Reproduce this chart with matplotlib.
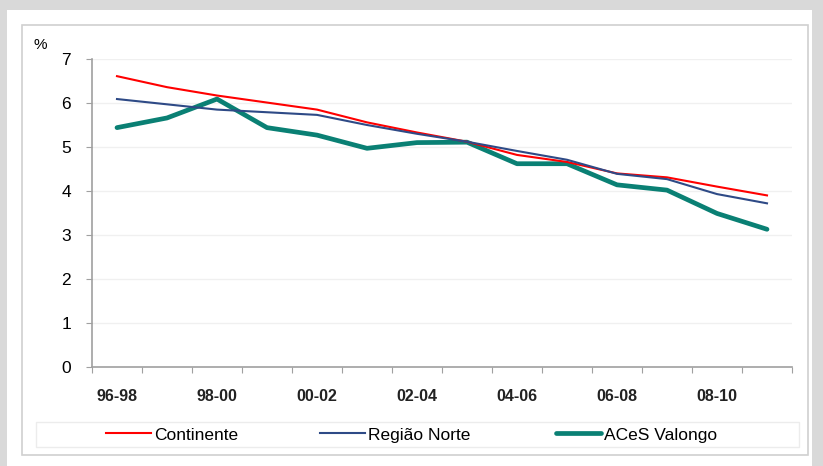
import matplotlib.pyplot as plt
from matplotlib.patches import Rectangle

plt.rcParams['font.family'] = ['Liberation Sans', 'DejaVu Sans']

periods = ['96-98', '97-99', '98-00', '99-01', '00-02', '01-03', '02-04',
           '03-05', '04-06', '05-07', '06-08', '07-09', '08-10', '09-11']
continente = [6.61, 6.36, 6.17, 6.01, 5.85, 5.56, 5.33, 5.12, 4.82, 4.66, 4.40, 4.31, 4.10, 3.90]
regiao_norte = [6.09, 5.97, 5.85, 5.79, 5.73, 5.50, 5.30, 5.12, 4.91, 4.71, 4.39, 4.27, 3.93, 3.72]
aces_valongo = [5.44, 5.66, 6.09, 5.44, 5.27, 4.97, 5.10, 5.11, 4.62, 4.62, 4.14, 4.02, 3.49, 3.13]

W, H = 823, 466
fig = plt.figure(figsize=(W / 100, H / 100), dpi=100, facecolor='#d9d9d9')

# white panel and light chart frame (pixel boxes -> figure fraction)
def box(x0, y0, x1, y1):
    return (x0 / W, 1 - y1 / H), (x1 - x0) / W, (y1 - y0) / H

xy, w, h = box(7, 10, 812, 466)
fig.patches.append(Rectangle(xy, w, h, transform=fig.transFigure, facecolor='white',
                             edgecolor='none', zorder=-3))
xy, w, h = box(22, 25, 808, 455)
fig.patches.append(Rectangle(xy, w, h, transform=fig.transFigure, facecolor='white',
                             edgecolor='#d0d0d0', lw=1.2, zorder=-2))
xy, w, h = box(36, 422, 799, 447)
fig.patches.append(Rectangle(xy, w, h, transform=fig.transFigure, facecolor='white',
                             edgecolor='#ececec', lw=1.0, zorder=-1))

ax = fig.add_axes([92 / W, 1 - 367 / H, 700 / W, 308 / H])
ax.set_facecolor('none')

x = list(range(len(periods)))
l1, = ax.plot(x, continente, color='#ff0000', lw=1.5, label='Continente', zorder=3)
l2, = ax.plot(x, regiao_norte, color='#2e4a86', lw=1.5, label='Região Norte', zorder=3)
l3, = ax.plot(x, aces_valongo, color='#0a8074', lw=3.4, label='ACeS Valongo', zorder=2,
              solid_joinstyle='round', solid_capstyle='round')

ax.set_xlim(-0.5, len(periods) - 0.5)
ax.set_ylim(0, 7)
ax.set_yticks(range(8))
ax.grid(axis='y', color='#f0f0f0', lw=1)
ax.set_axisbelow(True)

ax.set_xticks([i - 0.5 for i in range(len(periods) + 1)], minor=False)
ax.set_xticklabels([])
ax.set_xticks(x[::2], minor=True)
ax.set_xticklabels(periods[::2], minor=True, fontweight='bold', color='#222222')
ax.tick_params(axis='x', which='major', length=4, color='#a0a0a0', direction='out')
ax.tick_params(axis='x', which='minor', length=0, pad=16, labelsize=11.5)
ax.tick_params(axis='y', length=4, color='#a0a0a0', labelsize=12.5, pad=11)

for s in ['top', 'right']:
    ax.spines[s].set_visible(False)
for s in ['left', 'bottom']:
    ax.spines[s].set_color('#a0a0a0')
    ax.spines[s].set_linewidth(1.2)

fig.text(33 / W, 1 - 45 / H, '%', fontsize=11, va='center')

# one legend entry per slot, as in the reference
for line, x0 in [(l1, 106), (l2, 320), (l3, 556)]:
    fig.legend(handles=[line], loc='center left', bbox_to_anchor=(x0 / W, 1 - 435 / H),
               frameon=False, fontsize=12.5, handlelength=2.6, handletextpad=0.15,
               borderaxespad=0, borderpad=0)

fig.savefig('out.png', dpi=100, facecolor=fig.get_facecolor())
